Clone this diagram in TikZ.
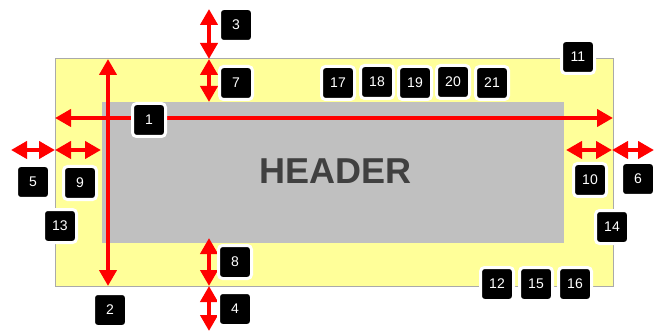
\documentclass[tikz,border=0pt]{standalone}
\usepackage{fontspec}
\setmainfont{Liberation Sans}
\usetikzlibrary{arrows.meta}
\definecolor{padyellow}{HTML}{FFFF99}
\definecolor{boxgray}{HTML}{C0C0C0}
\definecolor{edgegray}{HTML}{AAAAAA}
\definecolor{headtext}{HTML}{404040}
\tikzset{
  dim/.style={draw=red, line width=4pt, {Triangle[length=16pt,width=17pt]}-{Triangle[length=16pt,width=17pt]}, shorten <=0pt, shorten >=0pt},
  numbox/.style={rounded corners=4pt, fill=black, draw=white, line width=3pt,
    minimum size=33pt, inner sep=0pt, text=white, font=\fontsize{14}{14}\selectfont},
}
\begin{document}
\begin{tikzpicture}[x=1pt,y=-1pt]
\useasboundingbox (0,0) rectangle (667,334);
% panels
\node[draw=edgegray, line width=1pt, fill=padyellow, minimum width=558pt, minimum height=227pt, inner sep=0pt] (pad) at (334,172.5) {};
\node[fill=boxgray, minimum width=462pt, minimum height=141pt, inner sep=0pt] (hdr) at (333,172.5) {};
\node[text=headtext, font=\fontsize{36}{36}\selectfont\bfseries] (title) at (335.5,171) {HEADER};
% coordinates
\coordinate (a1l) at (55,118);
\coordinate (a1r) at (613,118);
\coordinate (a2t) at (108,59);
\coordinate (a2b) at (108,286);
\coordinate (a3t) at (209,9);
\coordinate (a3b) at (209,59);
\coordinate (a7t) at (209,59);
\coordinate (a7b) at (209,102);
\coordinate (a8t) at (209,238);
\coordinate (a8b) at (209,286);
\coordinate (a4t) at (209,286);
\coordinate (a4b) at (209,331);
\coordinate (a5l) at (11,150);
\coordinate (a5r) at (55,150);
\coordinate (a9l) at (55,150);
\coordinate (a9r) at (101,150);
\coordinate (a10l) at (566,150);
\coordinate (a10r) at (612,150);
\coordinate (a6l) at (612,150);
\coordinate (a6r) at (654,150);
% arrows
\draw[dim] (a1l) -- (a1r);
\draw[dim] (a2t) -- (a2b);
\draw[dim] (a3t) -- (a3b);
\draw[dim] (a7t) -- (a7b);
\draw[dim] (a8t) -- (a8b);
\draw[dim] (a4t) -- (a4b);
\draw[dim] (a5l) -- (a5r);
\draw[dim] (a9l) -- (a9r);
\draw[dim] (a10l) -- (a10r);
\draw[dim] (a6l) -- (a6r);
% number labels
\node[numbox] (n1) at (149,120) {1};
\node[numbox] (n2) at (110,310) {2};
\node[numbox] (n3) at (236,25) {3};
\node[numbox] (n4) at (235,309) {4};
\node[numbox] (n5) at (33,182) {5};
\node[numbox] (n6) at (638,179) {6};
\node[numbox] (n7) at (236,83) {7};
\node[numbox] (n8) at (235,262) {8};
\node[numbox] (n9) at (80,183) {9};
\node[numbox] (n10) at (590,180) {10};
\node[numbox] (n11) at (578,57) {11};
\node[numbox] (n12) at (497,284) {12};
\node[numbox] (n13) at (60,226) {13};
\node[numbox] (n14) at (612,227) {14};
\node[numbox] (n15) at (536,284) {15};
\node[numbox] (n16) at (575,284) {16};
\node[numbox] (n17) at (338,83) {17};
\node[numbox] (n18) at (377,82) {18};
\node[numbox] (n19) at (415,83) {19};
\node[numbox] (n20) at (453,82) {20};
\node[numbox] (n21) at (492,83) {21};
\end{tikzpicture}
\end{document}
